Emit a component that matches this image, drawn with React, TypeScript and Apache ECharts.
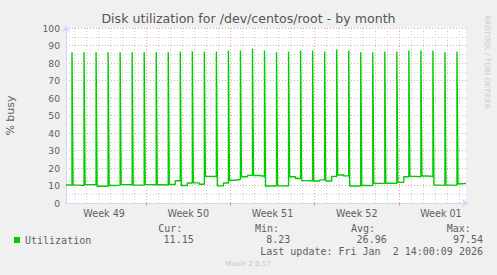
import React, { useEffect, useRef } from "react";
import * as echarts from "echarts";

// ---- data (time unit: one 2-hour sample slot from the left edge of the window) ----
const TITLE = "Disk utilization for /dev/centos/root - by month";
const SLOT_COUNT = 400;
const SLOTS_PER_DAY = 12;
const FIRST_MIDNIGHT_SLOT = 8;
const FIRST_SPIKE_SLOT = 6;
const weekLabels = ["Week 49", "Week 50", "Week 51", "Week 52", "Week 01"];
const weekLabelSlots = [38, 122, 206, 290, 374];
const weekStartSlots = [80, 164, 248, 332];

// daily peak (2h average) values, one per day
const spikePeaks = [
  86.2, 86.2, 86.2, 86.2, 86.2, 86.2, 86.2, 86.2, 86.2, 86.5, 86.7,
  86.5, 86.5, 87.1, 87.1, 88.1, 87.1, 86.2, 86.5, 87.1, 87.1, 86.5,
  87.7, 87.1, 86.2, 86.2, 86.5, 86.5, 87.1, 87.1, 87.1, 86.2, 86.5,
];
// baseline between peaks: first half / second half of each gap
const baseEarly = [
  10.3, 10.2, 10.5, 9.6, 10.0, 10.5, 10.2, 10.5, 10.4, 10.6, 10.0, 11.5,
  15.2, 9.8, 13.0, 15.0, 15.7, 9.7, 9.8, 15.0, 12.8, 12.6, 12.6, 16.0,
  9.7, 10.0, 11.2, 11.3, 11.8, 15.2, 15.4, 10.2, 10.2, 11.0,
];
const baseLate = [
  10.2, 10.0, 10.4, 9.6, 10.2, 10.4, 10.3, 10.4, 10.3, 12.7, 11.4, 10.7,
  15.3, 11.4, 13.4, 15.8, 15.3, 9.7, 9.7, 14.0, 12.6, 13.2, 15.2, 15.5,
  9.7, 9.9, 11.3, 11.2, 15.0, 15.0, 15.2, 10.1, 10.1, 11.2,
];

const SERIES_NAME = "Utilization";
const statHeaders = ["Cur:", "Min:", "Avg:", "Max:"];
const statValues = ["11.15", "8.23", "26.96", "97.54"];
const LAST_UPDATE = "Last update: Fri Jan  2 14:00:09 2026";
const FOOTER = "Munin 2.0.57";
const WATERMARK = "RRDTOOL / TOBI OETIKER";

// ---- build series points ----
const points: [number, number][] = [];
for (let j = 0; j < baseEarly.length; j++) {
  const start = j === 0 ? 0 : FIRST_SPIKE_SLOT + (j - 1) * SLOTS_PER_DAY + 1;
  const end =
    j === baseEarly.length - 1 ? SLOT_COUNT - 1 : FIRST_SPIKE_SLOT + j * SLOTS_PER_DAY;
  const mid = Math.round((start + end) / 2);
  points.push([start, baseEarly[j]], [mid, baseEarly[j]], [mid, baseLate[j]], [end, baseLate[j]]);
  if (j < spikePeaks.length) points.push([end, spikePeaks[j]]);
}

const slotCats = Array.from({ length: SLOT_COUNT }, (_, i) => {
  const w = weekLabelSlots.indexOf(i);
  return w >= 0 ? weekLabels[w] : "s" + i;
});
const isMidnight = (i: number) =>
  i >= FIRST_MIDNIGHT_SLOT && (i - FIRST_MIDNIGHT_SLOT) % SLOTS_PER_DAY === 0;
const isWeekStart = (i: number) => weekStartSlots.indexOf(i) >= 0;

const FONT = "DejaVu Sans";
const MONO = "DejaVu Sans Mono";
const TXT = "#606060";
const AXIS = "#CFD6F8";
const MGRID = "#eaa0a0";
const GRID = "#cdcdcd";

export default function App() {
  const ref = useRef<HTMLDivElement>(null);
  useEffect(() => {
    if (!ref.current) return;
    const chart = echarts.init(ref.current, undefined, { renderer: "svg" });
    const monoText = (text: string, x: number, y: number, align: string) => ({
      type: "text",
      x,
      y,
      style: {
        text,
        fill: TXT,
        font: `10px "${MONO}"`,
        textAlign: align,
        textVerticalAlign: "middle",
      },
    });
    const headerX = [158.3, 255, 351, 446.7];
    const valueRight = [193.7, 290.3, 386.7, 483];
    chart.setOption({
      animation: false,
      backgroundColor: "#F0F0F0",
      title: {
        text: TITLE,
        left: "center",
        top: 12,
        padding: 0,
        textStyle: { fontFamily: FONT, fontSize: 12.6, fontWeight: "normal", color: "#555" },
      },
      legend: {
        data: [SERIES_NAME],
        left: 14,
        top: 234,
        padding: 0,
        icon: "rect",
        itemWidth: 6,
        itemHeight: 6,
        textStyle: { fontFamily: MONO, fontSize: 10, color: TXT, lineHeight: 12 },
      },
      grid: {
        left: 66,
        top: 28,
        width: 400,
        height: 175,
        show: true,
        backgroundColor: "#FFFFFF",
        borderWidth: 0,
        outerBoundsMode: "none",
      },
      xAxis: [
        {
          type: "category",
          data: slotCats,
          boundaryGap: false,
          position: "bottom",
          axisLine: {
            show: true,
            lineStyle: { color: AXIS },
            symbol: ["none", "arrow"],
            symbolSize: [6, 7],
            symbolOffset: [0, 3],
          },
          axisTick: { show: false },
          axisLabel: {
            show: true,
            interval: (i: number) => weekLabelSlots.indexOf(i) >= 0,
            color: TXT,
            fontFamily: FONT,
            fontSize: 9.6,
            margin: 5,
          },
          splitLine: {
            show: true,
            interval: (i: number) => isMidnight(i) && !isWeekStart(i),
            lineStyle: { color: GRID, type: [1, 2], width: 1 },
          },
        },
        {
          type: "category",
          data: slotCats,
          boundaryGap: false,
          position: "bottom",
          axisLine: { show: false },
          axisLabel: { show: false },
          axisTick: {
            show: true,
            interval: (i: number) => isWeekStart(i),
            length: 3,
            lineStyle: { color: MGRID },
          },
          splitLine: {
            show: true,
            interval: (i: number) => isWeekStart(i),
            lineStyle: { color: MGRID, type: [1, 2], width: 1 },
          },
        },
        { type: "value", min: 0, max: SLOT_COUNT - 1, show: false },
      ],
      yAxis: {
        type: "value",
        min: 0,
        max: 100,
        interval: 10,
        name: "% busy",
        nameLocation: "middle",
        nameRotate: 90,
        nameGap: 50,
        nameTextStyle: { fontFamily: FONT, fontSize: 11, color: TXT },
        axisLine: {
          show: true,
          lineStyle: { color: AXIS },
          symbol: ["none", "arrow"],
          symbolSize: [6, 7],
          symbolOffset: [0, 3],
        },
        axisTick: { show: false },
        axisLabel: { color: TXT, fontFamily: FONT, fontSize: 9.2, margin: 6 },
        splitLine: { show: true, lineStyle: { color: MGRID, type: [1, 2], width: 1 } },
        minorTick: { show: false, splitNumber: 2 },
        minorSplitLine: { show: true, lineStyle: { color: GRID, type: [1, 2], width: 1 } },
      },
      series: [
        {
          name: SERIES_NAME,
          type: "line",
          xAxisIndex: 2,
          yAxisIndex: 0,
          data: points,
          symbol: "none",
          showSymbol: false,
          lineStyle: { color: "#00CC00", width: 1.4 },
          itemStyle: { color: "#00CC00" },
          z: 5,
        },
      ],
      graphic: [
        ...statHeaders.map((t, i) => monoText(t, headerX[i], 228.3, "left")),
        ...statValues.map((t, i) => monoText(t, valueRight[i], 239.7, "right")),
        monoText(LAST_UPDATE, 483, 251.7, "right"),
        {
          type: "text",
          x: 248,
          y: 263.7,
          style: {
            text: FOOTER,
            fill: "#c4c4c4",
            font: `6.9px "${FONT}"`,
            textAlign: "center",
            textVerticalAlign: "middle",
          },
        },
        {
          type: "text",
          x: 487.5,
          y: 15,
          rotation: -Math.PI / 2,
          style: {
            text: WATERMARK,
            fill: "#cccccc",
            font: `7.3px "${FONT}"`,
            textAlign: "left",
            textVerticalAlign: "middle",
          },
        },
      ],
    });
    return () => chart.dispose();
  }, []);
  return (
    <div
      ref={ref}
      style={{ position: "absolute", left: 0, top: 0, width: 497, height: 275 }}
    />
  );
}
